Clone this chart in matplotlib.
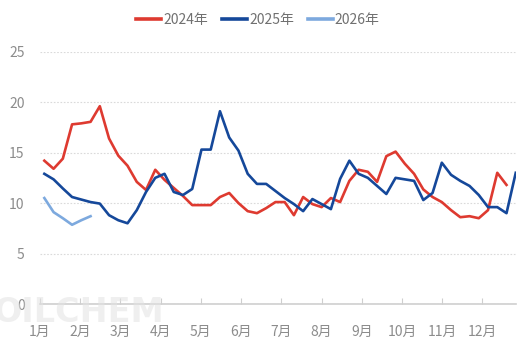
import matplotlib.pyplot as plt
import numpy as np

plt.rcParams['font.family'] = ['Noto Sans CJK SC', 'DejaVu Sans']

# 周度数据
y2024 = [14.2, 13.4, 14.4, 17.8, 17.9, 18.05, 19.6, 16.4, 14.7, 13.7,
         12.1, 11.3, 13.3, 12.3, 11.5, 10.7, 9.8, 9.8, 9.8, 10.6,
         11.0, 10.0, 9.2, 9.0, 9.5, 10.1, 10.1, 8.8, 10.6, 9.9,
         9.6, 10.5, 10.1, 12.2, 13.3, 13.1, 12.1, 14.65, 15.1, 13.9,
         12.9, 11.35, 10.6, 10.1, 9.3, 8.6, 8.7, 8.5, 9.3, 13.0,
         11.8]
y2025 = [12.9, 12.35, 11.45, 10.6, 10.35, 10.1, 9.95, 8.8, 8.3, 8.0,
         9.3, 11.1, 12.5, 12.9, 11.1, 10.8, 11.4, 15.3, 15.3, 19.1,
         16.5, 15.2, 12.9, 11.9, 11.9, 11.2, 10.5, 9.9, 9.2, 10.4,
         9.9, 9.4, 12.4, 14.2, 12.9, 12.5, 11.7, 10.9, 12.5, 12.35,
         12.2, 10.3, 11.0, 14.0, 12.8, 12.2, 11.7, 10.8, 9.6, 9.6,
         9.0, 13.0]
y2026 = [10.5, 9.1, 8.5, 7.85, 8.3, 8.7]

months = ['1月', '2月', '3月', '4月', '5月', '6月', '7月', '8月', '9月', '10月', '11月', '12月']
series_names = ['2024年', '2025年', '2026年']
colors = ['#DE3A30', '#15489A', '#7DA9DE']

fig = plt.figure(figsize=(5.3, 3.47), dpi=100)
ax = fig.add_axes([40 / 530, 1 - 304 / 347, (515.75 - 40) / 530, (304 - 51.7) / 347])

for vals, name, c in zip([y2024, y2025, y2026], series_names, colors):
    ax.plot(np.arange(len(vals)), vals, color=c, lw=1.9, label=name, zorder=3)

ax.set_ylim(0, 25)
ax.set_xlim(-0.45, 51)
ax.set_yticks([0, 5, 10, 15, 20, 25])
ax.grid(axis='y', color='#DADADA', linestyle=(0, (1.5, 1.5)), lw=0.8)
ax.set_axisbelow(True)

tick_pos = [k * 4.351 - 0.47 for k in range(12)]
ax.set_xticks(tick_pos)
ax.set_xticklabels(months)

for s in ['top', 'right', 'left']:
    ax.spines[s].set_visible(False)
ax.spines['bottom'].set_color('#CFCFCF')
ax.spines['bottom'].set_linewidth(1.2)

ax.tick_params(axis='y', length=0, pad=11, labelsize=10, labelcolor='#8C8C8C')
ax.tick_params(axis='x', direction='in', length=4, color='#CFCFCF', pad=15,
               labelsize=10, labelcolor='#8C8C8C')

fig.legend(loc='center', bbox_to_anchor=(258 / 530, 1 - 20 / 347), ncol=3,
           frameon=False, fontsize=10, handlelength=1.8, handletextpad=0.15,
           columnspacing=1.0, labelcolor='#707070')
for line in fig.legends[0].get_lines():
    line.set_linewidth(2.6)

# 水印
fig.text(-0.012, 1 - 322 / 347, 'OILCHEM', fontsize=24, fontweight='bold',
         color='#E2E2E2', alpha=0.55, family='DejaVu Sans', zorder=0)

fig.savefig('out.png', dpi=100)
